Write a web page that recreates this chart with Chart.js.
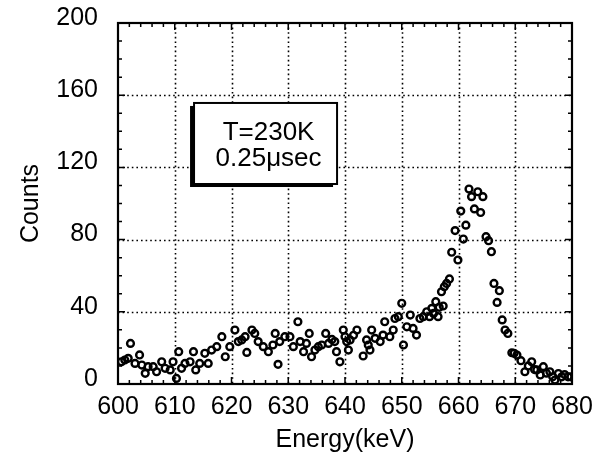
<!DOCTYPE html>
<html><head><meta charset="utf-8">
<script src="https://cdn.jsdelivr.net/npm/chart.js@4"></script>
<style>html,body{margin:0;padding:0;background:#fff}#wrap{width:596px;height:455px}</style>
</head><body><div id="wrap"><canvas id="c" width="596" height="455"></canvas></div>
<script>
const energy = [600.6,601.2,601.8,602.2,603.0,603.8,604.2,604.8,605.3,606.2,606.8,607.7,608.3,609.2,609.7,610.3,610.7,611.2,611.8,612.7,613.3,613.7,614.4,615.3,615.9,616.5,617.4,618.3,618.9,619.7,620.6,621.2,621.8,622.4,622.7,623.6,624.1,624.7,625.6,626.5,627.3,627.7,628.2,628.5,629.4,630.3,630.9,631.7,632.1,632.7,633.2,633.7,634.1,634.7,635.3,635.9,636.6,637.1,637.7,638.2,638.5,639.1,639.7,640.0,640.3,640.6,640.9,641.5,642.1,643.2,643.8,644.1,644.4,644.7,645.3,646.2,646.7,647.0,647.9,648.5,648.8,649.4,650.0,650.3,650.9,651.5,652.0,652.6,653.2,653.8,654.4,654.9,655.3,655.6,656.0,656.4,656.6,657.0,657.3,657.5,657.9,658.4,658.8,659.4,659.9,660.4,660.85,661.3,661.85,662.3,662.8,663.4,663.9,664.3,664.85,665.3,665.8,666.25,666.8,667.2,667.7,668.2,668.7,669.4,669.8,670.3,671.0,671.7,672.3,672.9,673.4,673.8,674.4,674.95,675.5,676.1,676.6,677.0,677.6,678.2,678.7,679.3,679.8];
const counts = [12.3,13.3,14.2,22.5,11.4,16.1,10.5,5.9,9.6,9.6,6.8,12.3,8.7,7.8,12.3,3.1,17.9,8.7,11.4,12.3,17.9,7.8,11.4,17,11.4,18.8,20.7,26.2,15.1,20.7,29.9,23.5,24.4,26.2,17.5,29.9,28,23.5,20.7,17.9,21.6,28,10.9,23.5,26.2,26.2,20.7,34.5,23.5,17.9,22.5,28,15.1,18.8,20.7,21.6,28,22.5,24.7,23.5,17.9,12.3,29.9,26.2,23.5,18.8,24.4,27,29.9,15.5,24.4,21.6,18.8,29.9,25.3,23.5,27.1,34.5,26.2,29.9,36.3,37.3,44.7,21.6,31.7,38.2,30.8,27.1,36.3,37.3,40,37.3,41.9,39.1,45.6,37.3,42.5,51.1,43.2,53.9,55.7,58.2,73,85,68.7,95.8,80.3,88,108,103.8,97,106.5,95,103.8,81.6,79.4,73.3,55.7,45.2,51.7,35.5,29.9,28,17.3,17,16,12.9,6.8,10,12.3,8,7.8,5,9.6,6,6.8,4,2.2,5.8,4,5.2,4,4];
const xTicks = [600,610,620,630,640,650,660,670,680];
const yTicks = [0,40,80,120,160,200];
const boxLines = ["T=230K","0.25\u03bcsec"];
const boxRange = {x0:613.4, x1:638.6, y0:155.7, y1:110.8};

const FONT = "'Liberation Sans', Arial, sans-serif";

const framePlugin = {
  id:'frame',
  beforeDatasetsDraw(chart){
    const {ctx, chartArea:a, scales:{x,y}} = chart;
    ctx.save();
    ctx.strokeStyle='#000'; ctx.lineWidth=1.6; ctx.setLineDash([1.6,3]);
    xTicks.slice(1,-1).forEach(v=>{const px=Math.round(x.getPixelForValue(v))+0.5;ctx.beginPath();ctx.moveTo(px,a.top);ctx.lineTo(px,a.bottom);ctx.stroke();});
    yTicks.slice(1,-1).forEach(v=>{const py=Math.round(y.getPixelForValue(v))+0.5;ctx.beginPath();ctx.moveTo(a.left,py);ctx.lineTo(a.right,py);ctx.stroke();});
    ctx.restore();
  },
  afterDatasetsDraw(chart){
    const {ctx, chartArea:a, scales:{x,y}} = chart;
    ctx.save();
    ctx.strokeStyle='#000'; ctx.lineWidth=1.5; ctx.setLineDash([]);
    for(let v=600; v<=680; v+=2){
      const px=x.getPixelForValue(v); const L=(v%10===0)?7:4;
      ctx.beginPath();ctx.moveTo(px,a.bottom);ctx.lineTo(px,a.bottom-L);ctx.moveTo(px,a.top);ctx.lineTo(px,a.top+L);ctx.stroke();
    }
    for(let v=0; v<=200; v+=10){
      const py=y.getPixelForValue(v); const L=(v%40===0)?7:4;
      ctx.beginPath();ctx.moveTo(a.left,py);ctx.lineTo(a.left+L,py);ctx.moveTo(a.right,py);ctx.lineTo(a.right-L,py);ctx.stroke();
    }
    ctx.lineWidth=2.2;
    ctx.strokeRect(a.left,a.top,a.right-a.left,a.bottom-a.top);
    ctx.restore();
  },
  afterDraw(chart){
    const {ctx, scales:{x,y}} = chart;
    const l=x.getPixelForValue(boxRange.x0), r=x.getPixelForValue(boxRange.x1);
    const t=y.getPixelForValue(boxRange.y0), b=y.getPixelForValue(boxRange.y1);
    ctx.save();
    ctx.fillStyle='#000';
    ctx.fillRect(l-4,t+3,r-l,b-t);
    ctx.fillStyle='#fff';
    ctx.fillRect(l,t,r-l,b-t);
    ctx.strokeStyle='#000'; ctx.lineWidth=2;
    ctx.strokeRect(l,t,r-l,b-t);
    ctx.fillStyle='#000'; ctx.font="26px "+FONT; ctx.textAlign='center'; ctx.textBaseline='middle';
    const cx=(l+r)/2+3;
    ctx.fillText(boxLines[0],cx,t+30);
    ctx.fillText(boxLines[1],cx,t+56);
    ctx.restore();
  }
};

new Chart(document.getElementById('c'),{
  type:'scatter',
  data:{datasets:[{data:energy.map((e,i)=>({x:e,y:counts[i]})),
    pointRadius:3.4,pointBorderWidth:2.4,pointBorderColor:'#000',pointBackgroundColor:'rgba(0,0,0,0)',pointStyle:'circle'}]},
  options:{
    responsive:false,animation:false,
    layout:{padding:{left:0,right:24,top:23,bottom:0}},
    plugins:{legend:{display:false},tooltip:{enabled:false}},
    scales:{
      x:{type:'linear',min:600,max:680,
        afterFit(s){s.height=71;s.paddingLeft=0;s.paddingRight=0;},
        afterBuildTicks(s){s.ticks=xTicks.map(v=>({value:v}));},
        grid:{display:false,drawTicks:false},border:{display:false},
        ticks:{color:'#000',font:{family:FONT,size:25},padding:8,maxRotation:0,autoSkip:false},
        title:{display:true,text:'Energy(keV)',color:'#000',font:{family:FONT,size:25},padding:{top:0,bottom:0}}},
      y:{type:'linear',min:0,max:200,
        afterFit(s){s.width=118;s.paddingTop=0;s.paddingBottom=0;},
        afterBuildTicks(s){s.ticks=yTicks.map(v=>({value:v}));},
        grid:{display:false,drawTicks:false},border:{display:false},
        ticks:{color:'#000',font:{family:FONT,size:25},padding:20,labelOffset:-5},
        title:{display:true,text:'Counts',color:'#000',font:{family:FONT,size:25},padding:{top:16,bottom:0}}}
    }
  },
  plugins:[framePlugin]
});
</script></body></html>
